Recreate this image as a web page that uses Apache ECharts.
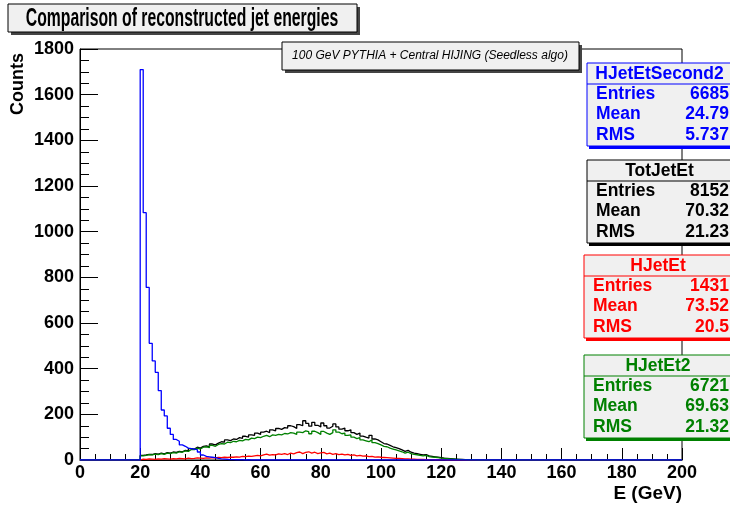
<!DOCTYPE html>
<html><head><meta charset="utf-8">
<script src="https://cdn.jsdelivr.net/npm/echarts@6/dist/echarts.min.js"></script>
<style>html,body{margin:0;padding:0;background:#fff}#c{width:730px;height:509px}</style>
</head><body><div id="c"></div>
<script>
// 1 GeV bins from 0 to 200
const xTicks = [0, 20, 40, 60, 80, 100, 120, 140, 160, 180, 200];
const yTicks = [0, 200, 400, 600, 800, 1000, 1200, 1400, 1600, 1800];

// HJetEtSecond2 (blue), counts from bin starting at 20 GeV
const blueStart = 20;
const blueCounts = [1710, 1083, 756, 511, 434, 384, 304, 219, 193, 139, 112, 90, 82, 66, 60, 52, 50, 48, 45, 35, 22, 16, 14, 12, 10, 7, 5, 4, 3, 2, 2, 1, 1, 1, 0, 1];

// TotJetEt (black)
const blackStart = 20;
const blackCounts = [20, 22, 25, 24, 28, 26, 30, 27, 32, 30,
  35, 33, 38, 36, 42, 40, 50, 48, 56, 52,
  60, 62, 58, 70, 66, 74, 80, 78, 88, 85,
  92, 90, 98, 95, 104, 100, 110, 108, 118, 112,
  122, 126, 120, 132, 128, 138, 134, 142, 140, 150,
  146, 138, 155, 150, 172, 160, 148, 165, 152, 145,
  162, 150, 140, 148, 158, 145, 135, 140, 128, 132,
  120, 112, 118, 105, 100, 96, 108, 92, 88, 80,
  72, 70, 64, 58, 54, 50, 44, 38, 42, 34,
  30, 28, 25, 22, 24, 18, 16, 14, 12, 10,
  8, 7, 6, 5, 4, 3, 3, 2, 2, 1, 1];

// HJetEt (red)
const redStart = 20;
const redCounts = [4, 3, 5, 4, 3, 5, 4, 6, 5, 4,
  6, 5, 7, 6, 5, 8, 6, 7, 9, 8,
  7, 9, 8, 10, 9, 11, 10, 12, 11, 13,
  12, 14, 13, 16, 15, 17, 16, 18, 20, 18,
  22, 26, 21, 24, 22, 27, 25, 28, 24, 30,
  27, 32, 35, 28, 33, 36, 30, 34, 28, 31,
  33, 27, 30, 25, 28, 24, 26, 22, 25, 20,
  22, 18, 20, 17, 18, 15, 16, 13, 14, 12,
  11, 10, 9, 8, 7, 7, 6, 5, 5, 4,
  4, 3, 3, 3, 2, 2, 2, 1, 1, 1, 1];

// HJetEt2 (green)
const greenStart = 20;
const greenCounts = [18, 20, 24, 22, 26, 24, 28, 25, 30, 28,
  32, 30, 36, 34, 40, 38, 46, 45, 52, 48,
  56, 58, 54, 64, 60, 68, 72, 70, 78, 76,
  82, 80, 86, 84, 90, 88, 96, 94, 100, 98,
  104, 108, 102, 110, 108, 112, 110, 116, 114, 120,
  118, 112, 122, 120, 128, 124, 115, 126, 120, 112,
  125, 118, 112, 120, 132, 122, 115, 118, 108, 110,
  100, 94, 98, 88, 84, 80, 88, 76, 72, 66,
  60, 58, 52, 48, 44, 40, 36, 30, 34, 28,
  25, 23, 20, 18, 20, 15, 13, 12, 10, 8,
  7, 6, 5, 4, 3, 3, 2, 2, 1, 1, 1];

// Stat boxes
const statNames = ['HJetEtSecond2', 'TotJetEt', 'HJetEt', 'HJetEt2'];
const statEntries = ['6685', '8152', '1431', '6721'];
const statMeans = ['24.79', '70.32', '73.52', '69.63'];
const statRMS = ['5.737', '21.23', '20.5', '21.32'];
const statColors = ['#0000ff', '#000000', '#ff0000', '#008000'];

const titleText = 'Comparison of reconstructed jet energies';
const subtitleText = '100 GeV PYTHIA + Central HIJING (Seedless algo)';

function hist(start, counts) {
  const pts = [];
  for (let e = 0; e < 200; e++) {
    const i = e - start;
    pts.push([e, (i >= 0 && i < counts.length) ? counts[i] : 0]);
  }
  pts.push([200, 0]);
  return pts;
}

const FONT = 'Liberation Sans, Arial, Helvetica, sans-serif';
const chart = echarts.init(document.getElementById('c'), null, {renderer: 'canvas'});

function line(name, start, counts, color) {
  return {
    name, type: 'line', step: 'end', symbol: 'none', animation: false,
    data: hist(start, counts), clip: true,
    lineStyle: {color, width: 1.3}, itemStyle: {color}
  };
}

const boxTops = [63, 160, 255, 355];
const boxLefts = [587, 587, 584, 584];
const graphics = [];
// title box
graphics.push({type: 'rect', shape: {x: 11, y: 7, width: 349, height: 28}, style: {fill: '#444'}, z: 10});
graphics.push({type: 'rect', shape: {x: 8, y: 4, width: 349, height: 28}, style: {fill: '#f0f0f0', stroke: '#000', lineWidth: 1}, z: 11});
graphics.push({type: 'text', x: 182, y: 19, scaleX: 0.63, z: 12, style: {text: titleText, font: 'bold 25px ' + FONT, fill: '#000', align: 'center', verticalAlign: 'middle'}});
// subtitle box
graphics.push({type: 'rect', shape: {x: 285, y: 45, width: 297, height: 28}, style: {fill: '#444'}, z: 10});
graphics.push({type: 'rect', shape: {x: 282, y: 42, width: 297, height: 28}, style: {fill: '#f0f0f0', stroke: '#000', lineWidth: 1}, z: 11});
graphics.push({type: 'text', x: 430, y: 56, z: 12, style: {text: subtitleText, font: 'italic 12px ' + FONT, fill: '#000', align: 'center', verticalAlign: 'middle'}});
// axis titles
graphics.push({type: 'text', x: 18, y: 84, rotation: Math.PI / 2, z: 12, style: {text: 'Counts', font: 'bold 18px ' + FONT, fill: '#000', align: 'center', verticalAlign: 'middle'}});
graphics.push({type: 'text', x: 682, y: 494, z: 12, style: {text: 'E (GeV)', font: 'bold 19px ' + FONT, fill: '#000', align: 'right', verticalAlign: 'middle'}});

for (let k = 0; k < statNames.length; k++) {
  const t = boxTops[k], l = boxLefts[k], c = statColors[k];
  const w = 760 - l, h = 83;
  graphics.push({type: 'rect', shape: {x: l + 2, y: t + 3, width: w, height: h}, style: {fill: c}, z: 10});
  graphics.push({type: 'rect', shape: {x: l, y: t, width: w, height: h}, style: {fill: '#f0f0f0', stroke: c, lineWidth: 1}, z: 11});
  graphics.push({type: 'line', shape: {x1: l, y1: t + 21, x2: 730, y2: t + 21}, style: {stroke: c, lineWidth: 1}, z: 12});
  graphics.push({type: 'text', x: (l + 730) / 2 + 1, y: t + 11, z: 12, style: {text: statNames[k], font: 'bold 17.5px ' + FONT, fill: c, align: 'center', verticalAlign: 'middle'}});
  const rows = [['Entries', statEntries[k]], ['Mean', statMeans[k]], ['RMS', statRMS[k]]];
  rows.forEach((r, j) => {
    const yy = t + 31 + j * 20.5;
    graphics.push({type: 'text', x: l + 9, y: yy, z: 12, style: {text: r[0], font: 'bold 17.5px ' + FONT, fill: c, align: 'left', verticalAlign: 'middle'}});
    graphics.push({type: 'text', x: 729, y: yy, z: 12, style: {text: r[1], font: 'bold 17.5px ' + FONT, fill: c, align: 'right', verticalAlign: 'middle'}});
  });
}

chart.setOption({
  animation: false,
  backgroundColor: '#fff',
  grid: {left: 80, top: 49, width: 602, height: 411, show: true, borderColor: '#000', borderWidth: 1, containLabel: false},
  xAxis: {
    type: 'value', min: xTicks[0], max: xTicks[xTicks.length - 1], interval: 20,
    axisLine: {show: true, lineStyle: {color: '#000', width: 1}},
    axisTick: {show: true, inside: true, length: 12, lineStyle: {color: '#000'}},
    minorTick: {show: true, splitNumber: 4, length: 6, lineStyle: {color: '#000'}},
    splitLine: {show: false},
    axisLabel: {color: '#000', fontFamily: FONT, fontWeight: 'bold', fontSize: 18, margin: 4,
      formatter: v => xTicks.includes(v) ? String(v) : ''}
  },
  yAxis: {
    type: 'value', min: yTicks[0], max: yTicks[yTicks.length - 1], interval: 200,
    axisLine: {show: true, lineStyle: {color: '#000', width: 1}},
    axisTick: {show: true, inside: true, length: 18, lineStyle: {color: '#000'}},
    minorTick: {show: true, splitNumber: 4, length: 9, lineStyle: {color: '#000'}},
    splitLine: {show: false},
    axisLabel: {color: '#000', fontFamily: FONT, fontWeight: 'bold', fontSize: 18, margin: 6,
      formatter: v => yTicks.includes(v) ? String(v) : ''}
  },
  series: [
    line('TotJetEt', blackStart, blackCounts, '#000000'),
    line('HJetEt', redStart, redCounts, '#ff0000'),
    line('HJetEt2', greenStart, greenCounts, '#008000'),
    line('HJetEtSecond2', blueStart, blueCounts, '#0000ff')
  ],
  graphic: graphics
});
</script></body></html>
